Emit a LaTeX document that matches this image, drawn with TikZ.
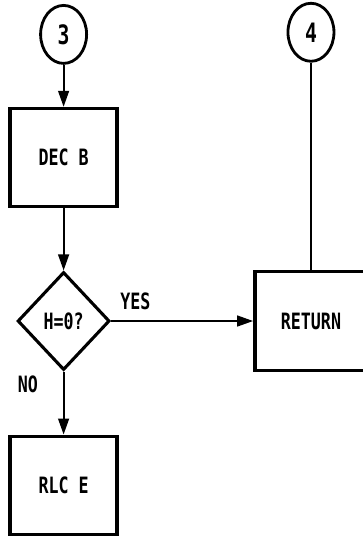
\documentclass[tikz,border=0pt]{standalone}
\usepackage{fontspec}
\newfontfamily\flowfont[FakeStretch=0.74]{DejaVu Sans Mono}
\usetikzlibrary{arrows.meta, positioning, shapes.geometric}

\begin{document}
\begin{tikzpicture}[
            node distance=1.5cm and 3.5cm,
            box/.style={rectangle, draw=black, line width=2.6pt, minimum width=2.68cm, minimum height=2.45cm, inner sep=0pt, align=center, font=\flowfont\bfseries\fontsize{16}{16}\selectfont},
            conn/.style={ellipse, draw=black, line width=2pt, minimum width=1.15cm, minimum height=1.45cm, inner sep=0pt, font=\flowfont\bfseries\fontsize{19}{19}\selectfont},
            test/.style={diamond, draw=black, line width=2.2pt, minimum width=2.3cm, minimum height=2.45cm, inner sep=0pt, font=\flowfont\bfseries\fontsize{16}{16}\selectfont},
            lbl/.style={font=\flowfont\bfseries\fontsize{16}{16}\selectfont},
            arrow/.style={-{Triangle[length=0.4cm, width=0.27cm]}, line width=1.4pt}
        ]
            \clip (0,0) rectangle (9.075,-13.5);

            \node[conn] (conn3) at (1.59,-0.86) {3};

            \node[box, below=1.05cm of conn3] (decb) {DEC B};

            \node[test, below=1.55cm of decb] (testh) {H=0?};

            \node[box, below=1.575cm of testh] (rlce) {RLC E};

            \node[box, right=3.55cm of testh, minimum width=2.8cm, minimum height=2.475cm] (ret) {RETURN};

            \node[conn, above=5.175cm of ret] (conn4) {4};

            \draw[arrow] (conn3) -- (decb);
            \draw[arrow] (decb) -- (testh);
            \draw[arrow] (testh) -- (ret) node[lbl, pos=0.17, above=0.15cm] (yes) {YES};
            \draw[arrow] (testh) -- (rlce) node[lbl, pos=0.2, left=0.5cm] (no) {NO};
            \draw[line width=1.4pt] (conn4) -- (ret);
        \end{tikzpicture}
\end{document}
